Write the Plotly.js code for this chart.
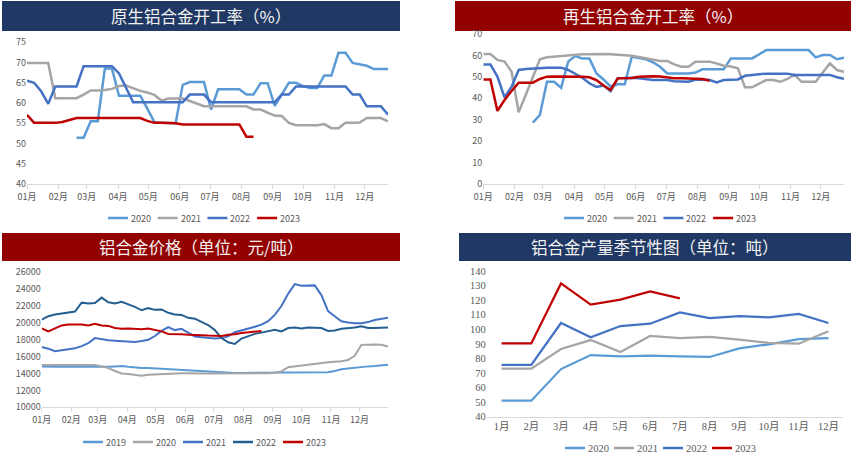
<!DOCTYPE html>
<html>
<head>
<meta charset="utf-8">
<script src="https://cdn.plot.ly/plotly-3.0.1.min.js"></script>
<style>html,body{margin:0;padding:0;background:#fff;}#chart{width:851px;height:458px;}</style>
</head>
<body>
<div id="chart"></div>
<script>
// ---------- Panel 1: 原生铝合金开工率 (weekly, %) ----------
const p1_names = ['2020','2021','2022','2023'];
const p1_2020 = [null,null,null,null,null,null,null,51.4,51.4,55.5,55.5,68.5,68.5,61.8,61.8,61.8,61.8,58.6,55.3,55.1,55.1,55.0,64.5,65.2,65.2,65.2,58.4,63.4,63.4,63.4,63.4,62.1,62.1,64.9,64.9,59.3,62.2,65.0,65.0,64.2,63.7,63.7,66.8,66.8,72.4,72.4,69.9,69.5,69.2,68.4,68.4,68.4];
const p1_2021 = [69.9,69.9,69.9,69.9,61.2,61.2,61.2,61.2,62.1,63.1,63.1,63.2,63.5,64.2,64.3,63.7,63.0,62.6,62.0,60.6,61.1,61.1,61.1,60.5,59.9,59.2,59.2,59.2,59.2,59.2,59.2,59.2,58.4,58.4,57.6,56.9,56.8,55.1,54.5,54.5,54.5,54.5,54.8,53.8,53.8,55.1,55.1,55.2,56.3,56.3,56.3,55.5];
const p1_2022 = [65.5,65.0,62.9,59.8,64.1,64.1,64.1,64.1,69.1,69.1,69.1,69.1,69.1,67.3,63.7,60.2,60.2,60.2,60.2,60.2,60.2,60.2,60.2,62.1,62.1,62.1,60.2,60.2,60.2,60.2,60.2,60.2,60.2,60.2,60.2,60.2,62.1,62.1,64.1,64.1,64.1,64.1,64.1,64.1,64.1,64.1,62.1,62.1,59.2,59.2,59.2,57.1];
const p1_2023 = [57.1,55.1,55.1,55.1,55.1,55.3,55.8,56.3,56.3,56.3,56.3,56.3,56.3,56.3,56.3,56.3,56.3,55.6,55.1,55.1,55.1,55.0,54.7,54.7,54.7,54.7,54.7,54.7,54.7,54.7,54.7,51.7,51.7];

// ---------- Panel 2: 再生铝合金开工率 (weekly, %) ----------
const p2_names = ['2020','2021','2022','2023'];
const p2_2020 = [null,null,null,null,null,null,null,28.6,32.2,47.7,47.7,44.9,57.1,59.7,58.6,58.6,51.6,48.8,45.5,46.5,46.5,59.4,58.9,58.2,56.8,54.7,51.6,51.6,51.6,51.6,52.0,53.5,53.5,53.5,53.5,58.6,58.6,58.6,58.6,60.5,62.5,62.5,62.5,62.5,62.5,62.5,62.5,59.1,60.2,60.2,58.2,58.9];
const p2_2021 = [60.7,60.7,57.9,57.1,52.4,33.5,41.5,50.0,58.2,59.1,59.4,59.7,60.0,60.4,60.5,60.5,60.7,60.7,60.5,60.3,60.1,59.8,59.3,58.6,58.0,57.4,57.4,55.8,54.7,54.7,57.1,57.1,57.1,56.2,55.2,54.8,54.0,45.1,45.1,46.8,48.5,48.5,47.7,49.0,51.0,47.7,47.7,47.7,52.0,56.3,53.2,52.4];
const p2_2022 = [55.8,55.8,50.1,40.4,45.4,53.2,53.7,54.0,54.3,54.3,54.3,54.3,53.2,51.3,49.6,47.0,45.3,46.0,43.4,49.3,49.6,49.6,49.3,48.8,48.5,48.5,48.5,48.0,47.7,47.7,48.6,48.8,48.5,47.4,48.5,48.8,48.8,50.5,50.9,51.2,51.5,51.5,51.5,51.5,50.9,50.9,50.9,50.9,50.9,50.9,49.8,49.1];
const p2_2023 = [48.8,48.8,34.1,39.2,43.4,47.3,47.3,47.3,49.0,50.1,50.2,50.2,50.1,50.0,50.0,49.8,48.5,46.0,43.9,49.3,49.3,49.5,50.0,50.2,50.3,50.2,49.7,49.4,49.3,49.3,49.3,49.0,48.2];

// ---------- Panel 3: 铝合金价格 (weekly, 元/吨) ----------
const p3_names = ['2019','2020','2021','2022','2023'];
const p3_2019 = [14850,14800,14800,14800,14800,14800,14750,14750,14750,14750,14800,14850,14900,14800,14700,14650,14650,14600,14550,14500,14450,14400,14400,14350,14300,14250,14150,14100,14100,14080,14070,14070,14080,14100,14100,14100,14100,14100,14100,14100,14120,14150,14150,14150,14300,14500,14600,14700,14800,14850,14900,14950,15050];
const p3_2020 = [15000,15000,15000,15000,15000,15000,15000,15000,15000,14850,14650,14300,14000,13950,13850,13750,13850,13900,13950,14000,14050,14050,14050,14000,14000,14000,14000,14000,14000,14000,14000,14000,14000,14000,14050,14100,14250,14750,14850,14950,15050,15200,15300,15350,15400,15450,15600,16100,17400,17450,17450,17400,17200];
const p3_2021 = [17150,16950,16650,16750,16850,17000,17250,17600,18200,18050,17950,17900,17850,17800,17750,17850,18000,18450,19050,19500,19150,19300,18900,18400,18300,18200,18150,18200,18400,18900,19100,19350,19550,19800,20200,20950,22000,23450,24600,24400,24400,24450,23300,21400,20800,20200,20050,19950,19950,20100,20350,20500,20600];
const p3_2022 = [20400,20800,21000,21100,21200,21350,22400,22300,22350,23000,22450,22300,22500,22200,21900,21500,21750,21550,21600,21200,21000,20950,20600,20500,20150,19750,19150,18200,17700,17500,18150,18450,18700,18850,19050,19200,19000,19400,19450,19350,19450,19450,19400,19050,19100,19300,19350,19450,19600,19400,19400,19400,19450];
const p3_2023 = [19350,19000,19350,19700,19800,19800,19800,19700,19900,19700,19650,19400,19300,19350,19300,19250,19350,19150,19000,18700,18700,18650,18600,18600,18550,18500,18450,18450,18600,18650,18800,18900,19000,19050];

// ---------- Panel 4: 铝合金产量季节性图 (monthly) ----------
const p4_names = ['2020','2021','2022','2023'];
const p4_months = ['1月','2月','3月','4月','5月','6月','7月','8月','9月','10月','11月','12月'];
const p4_2020 = [51,51,72.7,82.3,81.4,81.9,81.4,81,86.9,89.7,93.3,94];
const p4_2021 = [73,73,86.5,92.6,84.4,95.4,94,94.7,92.9,90.6,90.1,98.6];
const p4_2022 = [75.5,75.5,104.3,94.5,102.2,103.8,111.6,107.7,109.1,108.2,110.5,104.3];
const p4_2023 = [90.3,90.3,131.5,116.9,120.3,126,121.2];

const titles = ['原生铝合金开工率（%）','再生铝合金开工率（%）','铝合金价格（单位：元/吨）','铝合金产量季节性图（单位：吨）'];

const C = {lb:'#5B9BD5', gr:'#A5A5A5', bl:'#4472C4', nv:'#255E91', rd:'#C00000'};
const col4 = [C.lb, C.gr, C.bl, C.rd];
const col5 = [C.lb, C.gr, C.bl, C.nv, C.rd];
const WEEK = 7*86400000;
const START = '2023-01-01';
const SANS = '"Noto Sans CJK SC", sans-serif';
const SERIF = '"Liberation Serif", "Noto Sans CJK SC", serif';

function wk(name, y, color, xa, ya, w){
  return {type:'scatter', mode:'lines', name:name, y:y, x0:START, dx:WEEK,
    xaxis:xa, yaxis:ya, showlegend:false, line:{color:color, width:w},
    connectgaps:false, hoverinfo:'skip'};
}
function mo(name, y, color){
  return {type:'scatter', mode:'lines', name:name, x:p4_months.slice(0,y.length), y:y,
    xaxis:'x4', yaxis:'y4', showlegend:false, line:{color:color, width:2.25}, hoverinfo:'skip'};
}

const p1 = [p1_2020,p1_2021,p1_2022,p1_2023];
const p2 = [p2_2020,p2_2021,p2_2022,p2_2023];
const p3 = [p3_2019,p3_2020,p3_2021,p3_2022,p3_2023];
const p4 = [p4_2020,p4_2021,p4_2022,p4_2023];

const traces = [];
p1.forEach((s,i)=>traces.push(wk(p1_names[i], s, col4[i], 'x','y',2.5)));
p2.forEach((s,i)=>traces.push(wk(p2_names[i], s, col4[i], 'x2','y2',2.5)));
p3.forEach((s,i)=>traces.push(wk(p3_names[i], s, col5[i], 'x3','y3',2)));
p4.forEach((s,i)=>traces.push(mo(p4_names[i], s, col4[i])));

const W = 851, H = 458;
const px = v => v/W, py = v => 1 - v/H;
const tf = {family:SANS, size:9, color:'#595959'};
const tf4 = {family:SERIF, size:10.5, color:'#595959'};

function dateAx(x0, x1, yname, end){
  return {domain:[px(x0),px(x1)], anchor:yname, type:'date', range:[START,end],
    tick0:START, dtick:'M1', tickformat:'%m月', ticks:'outside', ticklen:4, tickcolor:'#D9D9D9',
    showline:true, linecolor:'#D9D9D9', linewidth:1, showgrid:false, zeroline:false,
    tickfont:tf, fixedrange:true};
}
function valAx(y0, y1, xname, r, dt, font){
  return {domain:[py(y1),py(y0)], anchor:xname, range:r, dtick:dt, tickformat:'d', showgrid:false,
    showline:false, zeroline:false, ticks:'', tickfont:font||tf, fixedrange:true};
}

const shapes = [], annotations = [];
function banner(x0,x1,y0,y1,col,text){
  shapes.push({type:'rect', xref:'paper', yref:'paper', x0:px(x0), x1:px(x1), y0:py(y1), y1:py(y0),
      fillcolor:col, line:{width:0}, layer:'below'});
  annotations.push({xref:'paper', yref:'paper', x:px((x0+x1)/2), y:py((y0+y1)/2), xanchor:'center', yanchor:'middle',
      text:text, showarrow:false, font:{family:SANS, size:16.5, color:'#F2F2F2'}});
}
// custom legend (line sample + text), Excel style
function legendRow(names, colors, startX, step, cy, font, lw){
  names.forEach((n,i)=>{
    const x = startX + i*step;
    shapes.push({type:'line', xref:'paper', yref:'paper', x0:px(x), x1:px(x+20), y0:py(cy), y1:py(cy),
      line:{color:colors[i], width:lw}});
    annotations.push({xref:'paper', yref:'paper', x:px(x+21), y:py(cy), xanchor:'left', yanchor:'middle',
      text:n, showarrow:false, font:font});
  });
}
const NAVY = '#203864', RED = '#920000';
banner(2,400,1,31,NAVY,titles[0]);
banner(455,851,1,31,RED,titles[1]);
banner(2,400,233,261,RED,titles[2]);
banner(459,851,233,261,NAVY,titles[3]);
legendRow(p1_names, col4, 108, 49.7, 218, tf, 2.5);
legendRow(p2_names, col4, 564, 49.7, 218, tf, 2.5);
legendRow(p3_names, col5, 83, 50, 442, tf, 2.5);
legendRow(p4_names, col4, 565, 49, 448, tf4, 2.5);

const layout = {
  width:W, height:H, margin:{l:0,r:0,t:0,b:0}, paper_bgcolor:'#fff', plot_bgcolor:'rgba(0,0,0,0)',
  showlegend:false,
  xaxis: dateAx(27,388,'y','2023-12-24'),
  yaxis: valAx(42.3,184,'x',[40,75],5),
  xaxis2: dateAx(483.3,844,'y2','2023-12-24'),
  yaxis2: valAx(34,184,'x2',[0,70],10),
  xaxis3: dateAx(41.7,388,'y3','2023-12-31'),
  yaxis3: valAx(272.3,407.3,'x3',[10000,26000],2000),
  xaxis4: {domain:[px(486.7),px(843.3)], anchor:'y4', type:'category', range:[-0.5,11.5],
    categoryorder:'array', categoryarray:p4_months, showline:true, linecolor:'#D9D9D9', linewidth:1,
    ticks:'', showgrid:false, zeroline:false, tickfont:tf4, fixedrange:true},
  yaxis4: valAx(271,416.7,'x4',[40,140],10,tf4),
  shapes: shapes,
  annotations: annotations
};

Plotly.newPlot('chart', traces, layout, {displayModeBar:false, staticPlot:true});
</script>
</body>
</html>
